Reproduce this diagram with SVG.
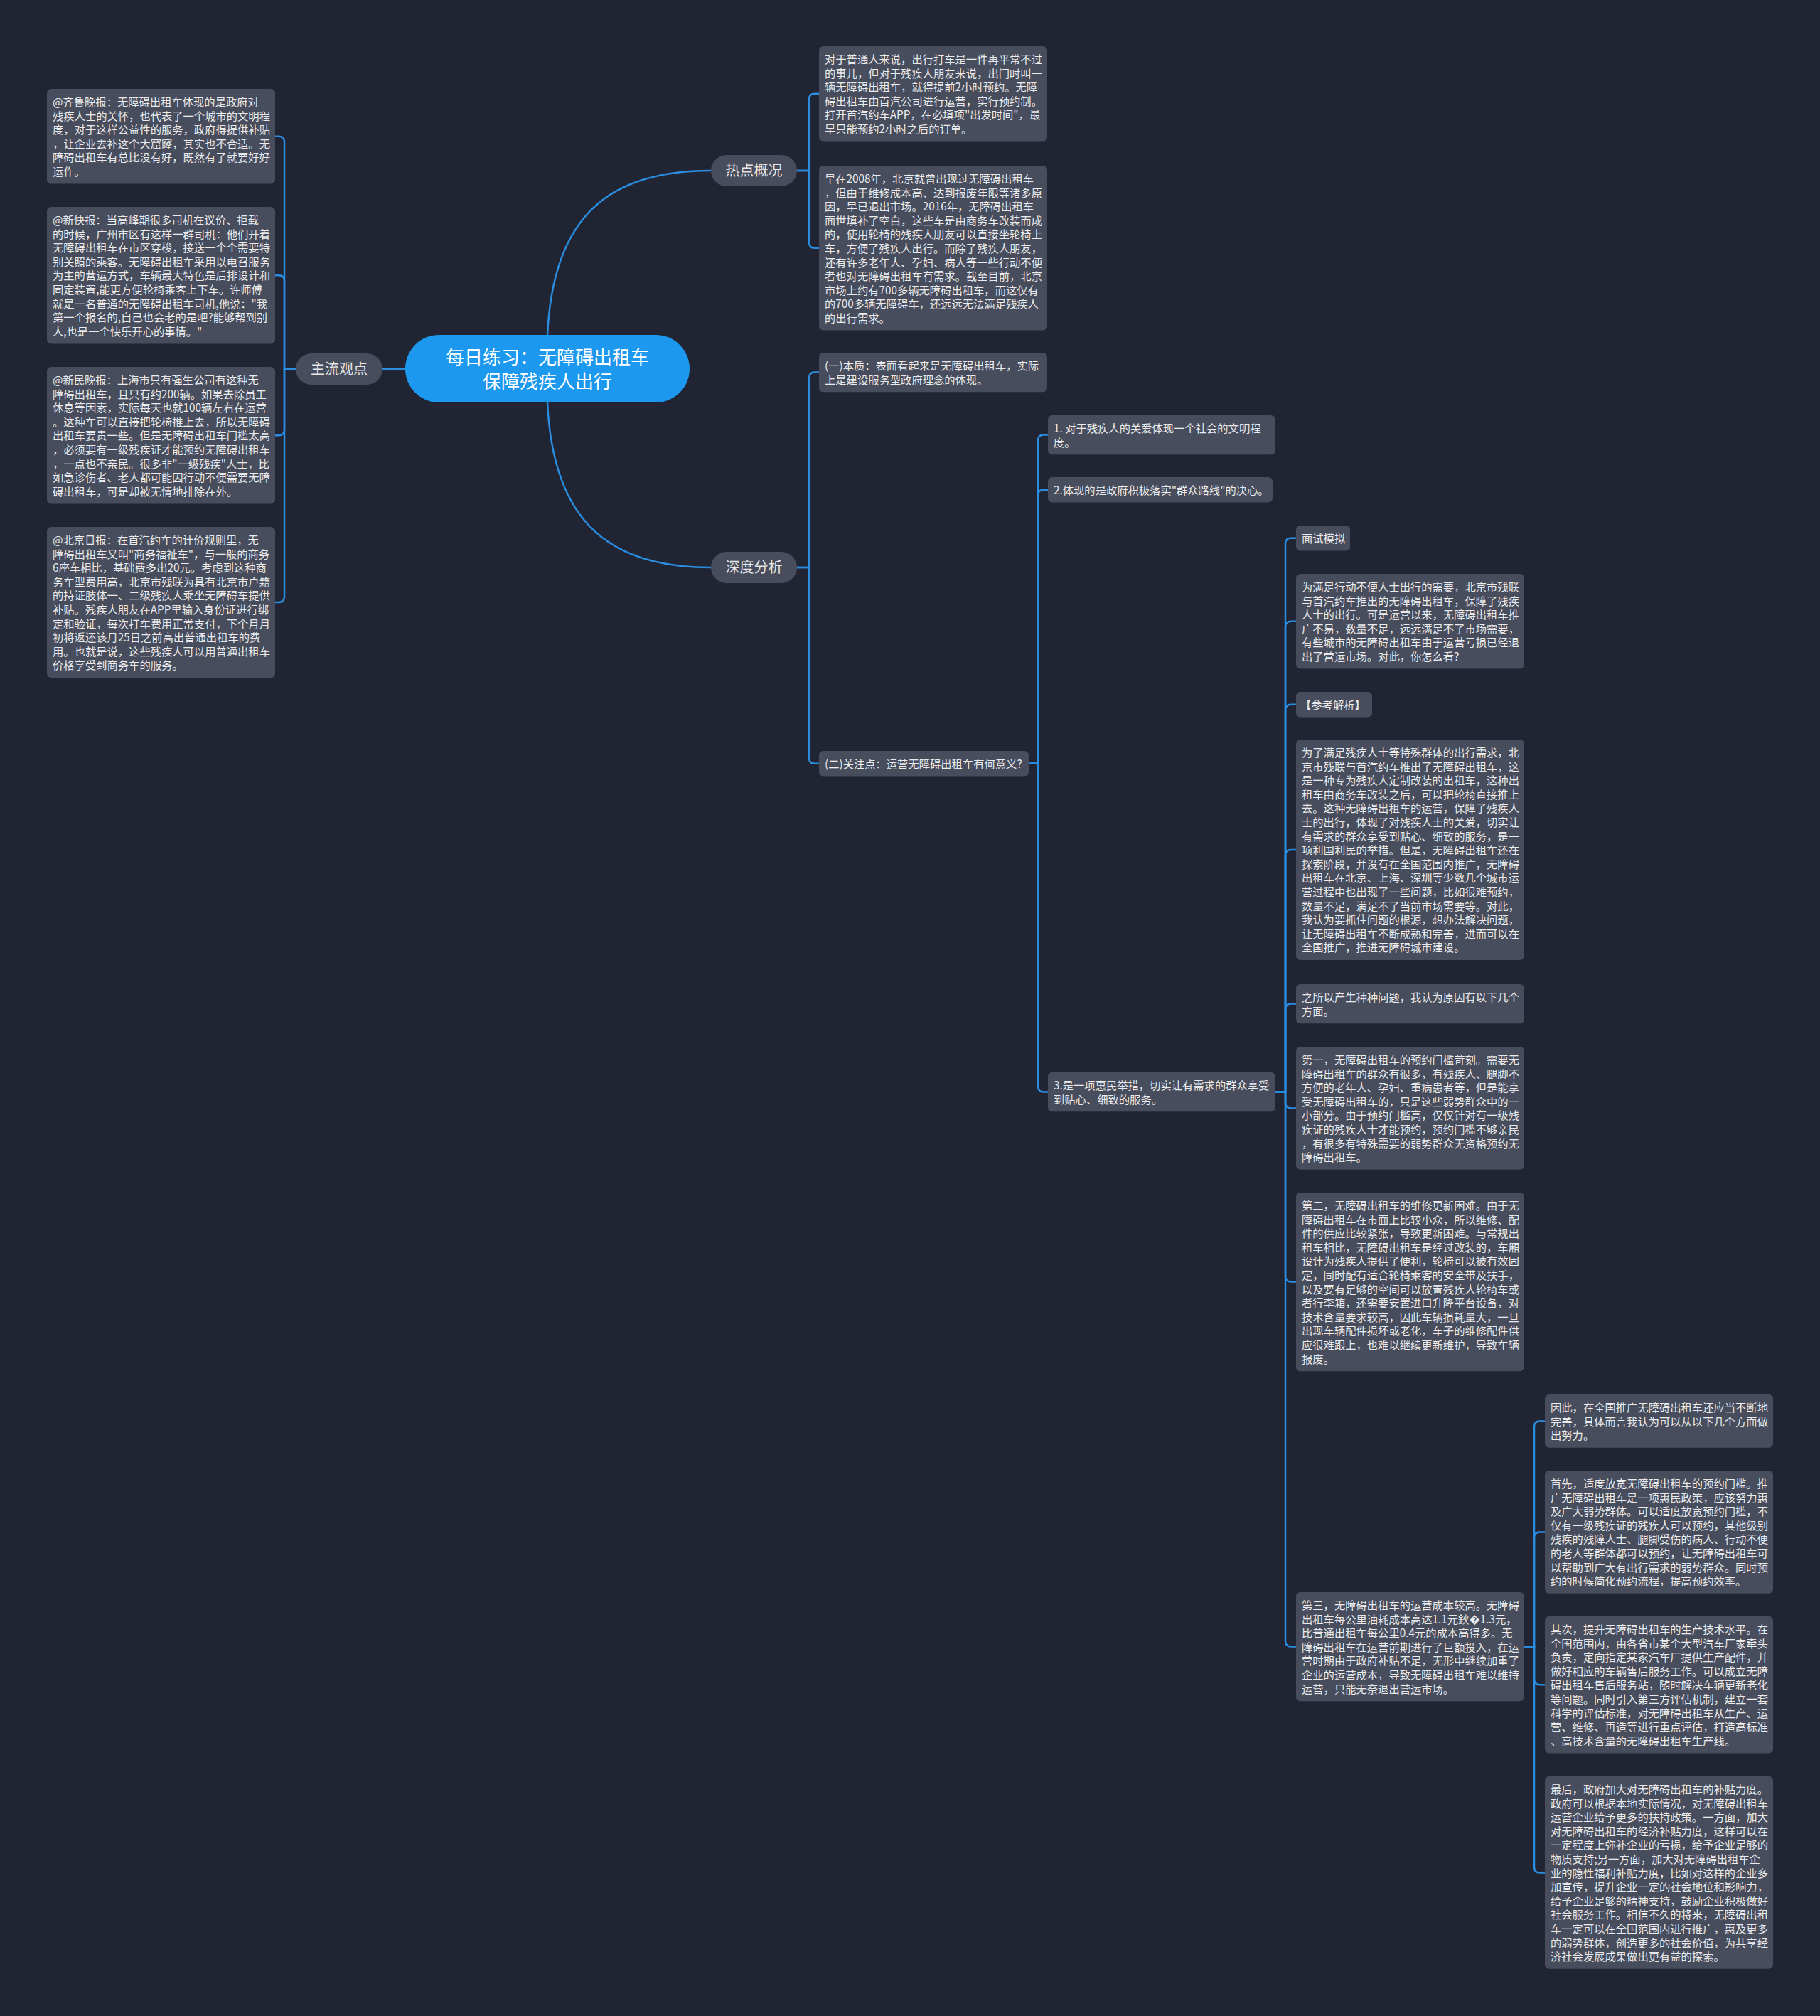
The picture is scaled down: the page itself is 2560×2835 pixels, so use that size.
<svg xmlns="http://www.w3.org/2000/svg" width="2560" height="2835" viewBox="0 0 2560 2835">
<style>
.box{fill:#474d5c}
.t{font-family:"Noto Sans CJK SC","Noto Sans",sans-serif;font-size:15.3px;fill:#ebebed}
.bt{font-family:"Noto Sans CJK SC","Noto Sans",sans-serif;font-size:20px;fill:#e6e6e8}
.rt{font-family:"Noto Sans CJK SC","Noto Sans",sans-serif;font-size:26px;fill:#ffffff}
.edge{fill:none;stroke:#2a8de0;stroke-width:2.5}
</style>
<rect width="2560" height="2835" fill="#212533"/>
<g id="connectors">
<path class="edge" d="M570 519 H538"/>
<path class="edge" d="M770 471 C778 300 860 240 1000 240"/>
<path class="edge" d="M770 566 C778 737 860 798 1000 798"/>
<path class="edge" d="M416 519 H400 V199.8 Q400 191.8 392 191.8 H387"/>
<path class="edge" d="M416 519 H400 V395.2 Q400 387.2 392 387.2 H387"/>
<path class="edge" d="M416 519 H400 V604.2 Q400 612.2 392 612.2 H387"/>
<path class="edge" d="M416 519 H400 V839 Q400 847 392 847 H387"/>
<path class="edge" d="M1121 240 H1138 V139.8 Q1138 131.8 1146 131.8 H1152"/>
<path class="edge" d="M1121 240 H1138 V340.8 Q1138 348.8 1146 348.8 H1152"/>
<path class="edge" d="M1121 798 H1138 V531.6 Q1138 523.6 1146 523.6 H1152"/>
<path class="edge" d="M1121 798 H1138 V1065.8 Q1138 1073.8 1146 1073.8 H1152"/>
<path class="edge" d="M1447 1073.8 H1460 V619.6 Q1460 611.6 1468 611.6 H1474"/>
<path class="edge" d="M1447 1073.8 H1460 V696.8 Q1460 688.8 1468 688.8 H1474"/>
<path class="edge" d="M1447 1073.8 H1460 V1527.6 Q1460 1535.6 1468 1535.6 H1474"/>
<path class="edge" d="M1794 1535.6 H1808 V764.8 Q1808 756.8 1816 756.8 H1823"/>
<path class="edge" d="M1794 1535.6 H1808 V881.8 Q1808 873.8 1816 873.8 H1823"/>
<path class="edge" d="M1794 1535.6 H1808 V998.8 Q1808 990.8 1816 990.8 H1823"/>
<path class="edge" d="M1794 1535.6 H1808 V1203 Q1808 1195 1816 1195 H1823"/>
<path class="edge" d="M1794 1535.6 H1808 V1419.6 Q1808 1411.6 1816 1411.6 H1823"/>
<path class="edge" d="M1794 1535.6 H1808 V1550.4 Q1808 1558.4 1816 1558.4 H1823"/>
<path class="edge" d="M1794 1535.6 H1808 V1794.6 Q1808 1802.6 1816 1802.6 H1823"/>
<path class="edge" d="M1794 1535.6 H1808 V2307.6 Q1808 2315.6 1816 2315.6 H1823"/>
<path class="edge" d="M2144 2315.6 H2158 V2006.4 Q2158 1998.4 2166 1998.4 H2173"/>
<path class="edge" d="M2144 2315.6 H2158 V2162.4 Q2158 2154.4 2166 2154.4 H2173"/>
<path class="edge" d="M2144 2315.6 H2158 V2361.2 Q2158 2369.2 2166 2369.2 H2173"/>
<path class="edge" d="M2144 2315.6 H2158 V2625.4 Q2158 2633.4 2166 2633.4 H2173"/>
</g>
<g id="root">
<rect x="570" y="471" width="400" height="95" rx="47.5" fill="#1c98ee"/>
<text class="rt" text-anchor="middle" x="770" y="512">每日练习：无障碍出租车</text>
<text class="rt" text-anchor="middle" x="770" y="546">保障残疾人出行</text>
</g>
<g id="n-zhuliu">
<rect x="416" y="497" width="122" height="44" rx="22" fill="#474d5c"/>
<text class="bt" text-anchor="middle" x="477" y="526">主流观点</text>
</g>
<g id="n-redian">
<rect x="1000" y="218" width="121" height="44" rx="22" fill="#474d5c"/>
<text class="bt" text-anchor="middle" x="1060.5" y="247">热点概况</text>
</g>
<g id="n-shendu">
<rect x="1000" y="776" width="121" height="44" rx="22" fill="#474d5c"/>
<text class="bt" text-anchor="middle" x="1060.5" y="805">深度分析</text>
</g>
<g id="l1">
<rect class="box" x="66" y="125" width="321" height="133.6" rx="6"/>
<text class="t" x="74" y="149"><tspan x="74">@齐鲁晚报：无障碍出租车体现的是政府对</tspan><tspan x="74" dy="19.6">残疾人士的关怀，也代表了一个城市的文明程</tspan><tspan x="74" dy="19.6">度，对于这样公益性的服务，政府得提供补贴</tspan><tspan x="74" dy="19.6">，让企业去补这个大窟窿，其实也不合适。无</tspan><tspan x="74" dy="19.6">障碍出租车有总比没有好，既然有了就要好好</tspan><tspan x="74" dy="19.6">运作。</tspan></text>
</g>
<g id="l2">
<rect class="box" x="66" y="291" width="321" height="192.4" rx="6"/>
<text class="t" x="74" y="315"><tspan x="74">@新快报：当高峰期很多司机在议价、拒载</tspan><tspan x="74" dy="19.6">的时候，广州市区有这样一群司机：他们开着</tspan><tspan x="74" dy="19.6">无障碍出租车在市区穿梭，接送一个个需要特</tspan><tspan x="74" dy="19.6">别关照的乘客。无障碍出租车采用以电召服务</tspan><tspan x="74" dy="19.6">为主的营运方式，车辆最大特色是后排设计和</tspan><tspan x="74" dy="19.6">固定装置,能更方便轮椅乘客上下车。许师傅</tspan><tspan x="74" dy="19.6">就是一名普通的无障碍出租车司机,他说："我</tspan><tspan x="74" dy="19.6">第一个报名的,自己也会老的是吧?能够帮到别</tspan><tspan x="74" dy="19.6">人,也是一个快乐开心的事情。"</tspan></text>
</g>
<g id="l3">
<rect class="box" x="66" y="516" width="321" height="192.4" rx="6"/>
<text class="t" x="74" y="540"><tspan x="74">@新民晚报：上海市只有强生公司有这种无</tspan><tspan x="74" dy="19.6">障碍出租车，且只有约200辆。如果去除员工</tspan><tspan x="74" dy="19.6">休息等因素，实际每天也就100辆左右在运营</tspan><tspan x="74" dy="19.6">。这种车可以直接把轮椅推上去，所以无障碍</tspan><tspan x="74" dy="19.6">出租车要贵一些。但是无障碍出租车门槛太高</tspan><tspan x="74" dy="19.6">，必须要有一级残疾证才能预约无障碍出租车</tspan><tspan x="74" dy="19.6">，一点也不亲民。很多非"一级残疾"人士，比</tspan><tspan x="74" dy="19.6">如急诊伤者、老人都可能因行动不便需要无障</tspan><tspan x="74" dy="19.6">碍出租车，可是却被无情地排除在外。</tspan></text>
</g>
<g id="l4">
<rect class="box" x="66" y="741" width="321" height="212" rx="6"/>
<text class="t" x="74" y="765"><tspan x="74">@北京日报：在首汽约车的计价规则里，无</tspan><tspan x="74" dy="19.6">障碍出租车又叫"商务福祉车"，与一般的商务</tspan><tspan x="74" dy="19.6">6座车相比，基础费多出20元。考虑到这种商</tspan><tspan x="74" dy="19.6">务车型费用高，北京市残联为具有北京市户籍</tspan><tspan x="74" dy="19.6">的持证肢体一、二级残疾人乘坐无障碍车提供</tspan><tspan x="74" dy="19.6">补贴。残疾人朋友在APP里输入身份证进行绑</tspan><tspan x="74" dy="19.6">定和验证，每次打车费用正常支付，下个月月</tspan><tspan x="74" dy="19.6">初将返还该月25日之前高出普通出租车的费</tspan><tspan x="74" dy="19.6">用。也就是说，这些残疾人可以用普通出租车</tspan><tspan x="74" dy="19.6">价格享受到商务车的服务。</tspan></text>
</g>
<g id="h1">
<rect class="box" x="1152" y="65" width="321" height="133.6" rx="6"/>
<text class="t" x="1160" y="89"><tspan x="1160">对于普通人来说，出行打车是一件再平常不过</tspan><tspan x="1160" dy="19.6">的事儿，但对于残疾人朋友来说，出门时叫一</tspan><tspan x="1160" dy="19.6">辆无障碍出租车，就得提前2小时预约。无障</tspan><tspan x="1160" dy="19.6">碍出租车由首汽公司进行运营，实行预约制。</tspan><tspan x="1160" dy="19.6">打开首汽约车APP，在必填项"出发时间"，最</tspan><tspan x="1160" dy="19.6">早只能预约2小时之后的订单。</tspan></text>
</g>
<g id="h2">
<rect class="box" x="1152" y="233" width="321" height="231.6" rx="6"/>
<text class="t" x="1160" y="257"><tspan x="1160">早在2008年，北京就曾出现过无障碍出租车</tspan><tspan x="1160" dy="19.6">，但由于维修成本高、达到报废年限等诸多原</tspan><tspan x="1160" dy="19.6">因，早已退出市场。2016年，无障碍出租车</tspan><tspan x="1160" dy="19.6">面世填补了空白，这些车是由商务车改装而成</tspan><tspan x="1160" dy="19.6">的，使用轮椅的残疾人朋友可以直接坐轮椅上</tspan><tspan x="1160" dy="19.6">车，方便了残疾人出行。而除了残疾人朋友，</tspan><tspan x="1160" dy="19.6">还有许多老年人、孕妇、病人等一些行动不便</tspan><tspan x="1160" dy="19.6">者也对无障碍出租车有需求。截至目前，北京</tspan><tspan x="1160" dy="19.6">市场上约有700多辆无障碍出租车，而这仅有</tspan><tspan x="1160" dy="19.6">的700多辆无障碍车，还远远无法满足残疾人</tspan><tspan x="1160" dy="19.6">的出行需求。</tspan></text>
</g>
<g id="d1">
<rect class="box" x="1152" y="496" width="321" height="55.2" rx="6"/>
<text class="t" x="1160" y="520"><tspan x="1160">(一)本质：表面看起来是无障碍出租车，实际</tspan><tspan x="1160" dy="19.6">上是建设服务型政府理念的体现。</tspan></text>
</g>
<g id="d2">
<rect class="box" x="1152" y="1056" width="295" height="35.6" rx="6"/>
<text class="t" x="1160" y="1080">(二)关注点：运营无障碍出租车有何意义?</text>
</g>
<g id="e1">
<rect class="box" x="1474" y="584" width="320" height="55.2" rx="6"/>
<text class="t" x="1482" y="608"><tspan x="1482">1. 对于残疾人的关爱体现一个社会的文明程</tspan><tspan x="1482" dy="19.6">度。</tspan></text>
</g>
<g id="e2">
<rect class="box" x="1474" y="671" width="316" height="35.6" rx="6"/>
<text class="t" x="1482" y="695">2.体现的是政府积极落实"群众路线"的决心。</text>
</g>
<g id="e3">
<rect class="box" x="1474" y="1508" width="320" height="55.2" rx="6"/>
<text class="t" x="1482" y="1532"><tspan x="1482">3.是一项惠民举措，切实让有需求的群众享受</tspan><tspan x="1482" dy="19.6">到贴心、细致的服务。</tspan></text>
</g>
<g id="f1">
<rect class="box" x="1823" y="739" width="76" height="35.6" rx="6"/>
<text class="t" x="1831" y="763">面试模拟</text>
</g>
<g id="f2">
<rect class="box" x="1823" y="807" width="321" height="133.6" rx="6"/>
<text class="t" x="1831" y="831"><tspan x="1831">为满足行动不便人士出行的需要，北京市残联</tspan><tspan x="1831" dy="19.6">与首汽约车推出的无障碍出租车，保障了残疾</tspan><tspan x="1831" dy="19.6">人士的出行。可是运营以来，无障碍出租车推</tspan><tspan x="1831" dy="19.6">广不易，数量不足，远远满足不了市场需要，</tspan><tspan x="1831" dy="19.6">有些城市的无障碍出租车由于运营亏损已经退</tspan><tspan x="1831" dy="19.6">出了营运市场。对此，你怎么看?</tspan></text>
</g>
<g id="f3">
<rect class="box" x="1823" y="973" width="107" height="35.6" rx="6"/>
<text class="t" x="1829" y="997">【参考解析】</text>
</g>
<g id="f4">
<rect class="box" x="1823" y="1040" width="321" height="310" rx="6"/>
<text class="t" x="1831" y="1064"><tspan x="1831">为了满足残疾人士等特殊群体的出行需求，北</tspan><tspan x="1831" dy="19.6">京市残联与首汽约车推出了无障碍出租车，这</tspan><tspan x="1831" dy="19.6">是一种专为残疾人定制改装的出租车，这种出</tspan><tspan x="1831" dy="19.6">租车由商务车改装之后，可以把轮椅直接推上</tspan><tspan x="1831" dy="19.6">去。这种无障碍出租车的运营，保障了残疾人</tspan><tspan x="1831" dy="19.6">士的出行，体现了对残疾人士的关爱，切实让</tspan><tspan x="1831" dy="19.6">有需求的群众享受到贴心、细致的服务，是一</tspan><tspan x="1831" dy="19.6">项利国利民的举措。但是，无障碍出租车还在</tspan><tspan x="1831" dy="19.6">探索阶段，并没有在全国范围内推广，无障碍</tspan><tspan x="1831" dy="19.6">出租车在北京、上海、深圳等少数几个城市运</tspan><tspan x="1831" dy="19.6">营过程中也出现了一些问题，比如很难预约，</tspan><tspan x="1831" dy="19.6">数量不足，满足不了当前市场需要等。对此，</tspan><tspan x="1831" dy="19.6">我认为要抓住问题的根源，想办法解决问题，</tspan><tspan x="1831" dy="19.6">让无障碍出租车不断成熟和完善，进而可以在</tspan><tspan x="1831" dy="19.6">全国推广，推进无障碍城市建设。</tspan></text>
</g>
<g id="f5">
<rect class="box" x="1823" y="1384" width="321" height="55.2" rx="6"/>
<text class="t" x="1831" y="1408"><tspan x="1831">之所以产生种种问题，我认为原因有以下几个</tspan><tspan x="1831" dy="19.6">方面。</tspan></text>
</g>
<g id="f6">
<rect class="box" x="1823" y="1472" width="321" height="172.8" rx="6"/>
<text class="t" x="1831" y="1496"><tspan x="1831">第一，无障碍出租车的预约门槛苛刻。需要无</tspan><tspan x="1831" dy="19.6">障碍出租车的群众有很多，有残疾人、腿脚不</tspan><tspan x="1831" dy="19.6">方便的老年人、孕妇、重病患者等，但是能享</tspan><tspan x="1831" dy="19.6">受无障碍出租车的，只是这些弱势群众中的一</tspan><tspan x="1831" dy="19.6">小部分。由于预约门槛高，仅仅针对有一级残</tspan><tspan x="1831" dy="19.6">疾证的残疾人士才能预约，预约门槛不够亲民</tspan><tspan x="1831" dy="19.6">，有很多有特殊需要的弱势群众无资格预约无</tspan><tspan x="1831" dy="19.6">障碍出租车。</tspan></text>
</g>
<g id="f7">
<rect class="box" x="1823" y="1677" width="321" height="251.2" rx="6"/>
<text class="t" x="1831" y="1701"><tspan x="1831">第二，无障碍出租车的维修更新困难。由于无</tspan><tspan x="1831" dy="19.6">障碍出租车在市面上比较小众，所以维修、配</tspan><tspan x="1831" dy="19.6">件的供应比较紧张，导致更新困难。与常规出</tspan><tspan x="1831" dy="19.6">租车相比，无障碍出租车是经过改装的，车厢</tspan><tspan x="1831" dy="19.6">设计为残疾人提供了便利，轮椅可以被有效固</tspan><tspan x="1831" dy="19.6">定，同时配有适合轮椅乘客的安全带及扶手，</tspan><tspan x="1831" dy="19.6">以及要有足够的空间可以放置残疾人轮椅车或</tspan><tspan x="1831" dy="19.6">者行李箱，还需要安置进口升降平台设备，对</tspan><tspan x="1831" dy="19.6">技术含量要求较高，因此车辆损耗量大，一旦</tspan><tspan x="1831" dy="19.6">出现车辆配件损坏或老化，车子的维修配件供</tspan><tspan x="1831" dy="19.6">应很难跟上，也难以继续更新维护，导致车辆</tspan><tspan x="1831" dy="19.6">报废。</tspan></text>
</g>
<g id="f8">
<rect class="box" x="1823" y="2239" width="321" height="153.2" rx="6"/>
<text class="t" x="1831" y="2263"><tspan x="1831">第三，无障碍出租车的运营成本较高。无障碍</tspan><tspan x="1831" dy="19.6">出租车每公里油耗成本高达1.1元鈥�1.3元，</tspan><tspan x="1831" dy="19.6">比普通出租车每公里0.4元的成本高得多。无</tspan><tspan x="1831" dy="19.6">障碍出租车在运营前期进行了巨额投入，在运</tspan><tspan x="1831" dy="19.6">营时期由于政府补贴不足，无形中继续加重了</tspan><tspan x="1831" dy="19.6">企业的运营成本，导致无障碍出租车难以维持</tspan><tspan x="1831" dy="19.6">运营，只能无奈退出营运市场。</tspan></text>
</g>
<g id="g1">
<rect class="box" x="2173" y="1961" width="321" height="74.8" rx="6"/>
<text class="t" x="2181" y="1985"><tspan x="2181">因此，在全国推广无障碍出租车还应当不断地</tspan><tspan x="2181" dy="19.6">完善，具体而言我认为可以从以下几个方面做</tspan><tspan x="2181" dy="19.6">出努力。</tspan></text>
</g>
<g id="g2">
<rect class="box" x="2173" y="2068" width="321" height="172.8" rx="6"/>
<text class="t" x="2181" y="2092"><tspan x="2181">首先，适度放宽无障碍出租车的预约门槛。推</tspan><tspan x="2181" dy="19.6">广无障碍出租车是一项惠民政策，应该努力惠</tspan><tspan x="2181" dy="19.6">及广大弱势群体。可以适度放宽预约门槛，不</tspan><tspan x="2181" dy="19.6">仅有一级残疾证的残疾人可以预约，其他级别</tspan><tspan x="2181" dy="19.6">残疾的残障人士、腿脚受伤的病人、行动不便</tspan><tspan x="2181" dy="19.6">的老人等群体都可以预约，让无障碍出租车可</tspan><tspan x="2181" dy="19.6">以帮助到广大有出行需求的弱势群众。同时预</tspan><tspan x="2181" dy="19.6">约的时候简化预约流程，提高预约效率。</tspan></text>
</g>
<g id="g3">
<rect class="box" x="2173" y="2273" width="321" height="192.4" rx="6"/>
<text class="t" x="2181" y="2297"><tspan x="2181">其次，提升无障碍出租车的生产技术水平。在</tspan><tspan x="2181" dy="19.6">全国范围内，由各省市某个大型汽车厂家牵头</tspan><tspan x="2181" dy="19.6">负责，定向指定某家汽车厂提供生产配件，并</tspan><tspan x="2181" dy="19.6">做好相应的车辆售后服务工作。可以成立无障</tspan><tspan x="2181" dy="19.6">碍出租车售后服务站，随时解决车辆更新老化</tspan><tspan x="2181" dy="19.6">等问题。同时引入第三方评估机制，建立一套</tspan><tspan x="2181" dy="19.6">科学的评估标准，对无障碍出租车从生产、运</tspan><tspan x="2181" dy="19.6">营、维修、再造等进行重点评估，打造高标准</tspan><tspan x="2181" dy="19.6">、高技术含量的无障碍出租车生产线。</tspan></text>
</g>
<g id="g4">
<rect class="box" x="2173" y="2498" width="321" height="270.8" rx="6"/>
<text class="t" x="2181" y="2522"><tspan x="2181">最后，政府加大对无障碍出租车的补贴力度。</tspan><tspan x="2181" dy="19.6">政府可以根据本地实际情况，对无障碍出租车</tspan><tspan x="2181" dy="19.6">运营企业给予更多的扶持政策。一方面，加大</tspan><tspan x="2181" dy="19.6">对无障碍出租车的经济补贴力度，这样可以在</tspan><tspan x="2181" dy="19.6">一定程度上弥补企业的亏损，给予企业足够的</tspan><tspan x="2181" dy="19.6">物质支持;另一方面，加大对无障碍出租车企</tspan><tspan x="2181" dy="19.6">业的隐性福利补贴力度，比如对这样的企业多</tspan><tspan x="2181" dy="19.6">加宣传，提升企业一定的社会地位和影响力，</tspan><tspan x="2181" dy="19.6">给予企业足够的精神支持，鼓励企业积极做好</tspan><tspan x="2181" dy="19.6">社会服务工作。相信不久的将来，无障碍出租</tspan><tspan x="2181" dy="19.6">车一定可以在全国范围内进行推广，惠及更多</tspan><tspan x="2181" dy="19.6">的弱势群体，创造更多的社会价值，为共享经</tspan><tspan x="2181" dy="19.6">济社会发展成果做出更有益的探索。</tspan></text>
</g>
</svg>
